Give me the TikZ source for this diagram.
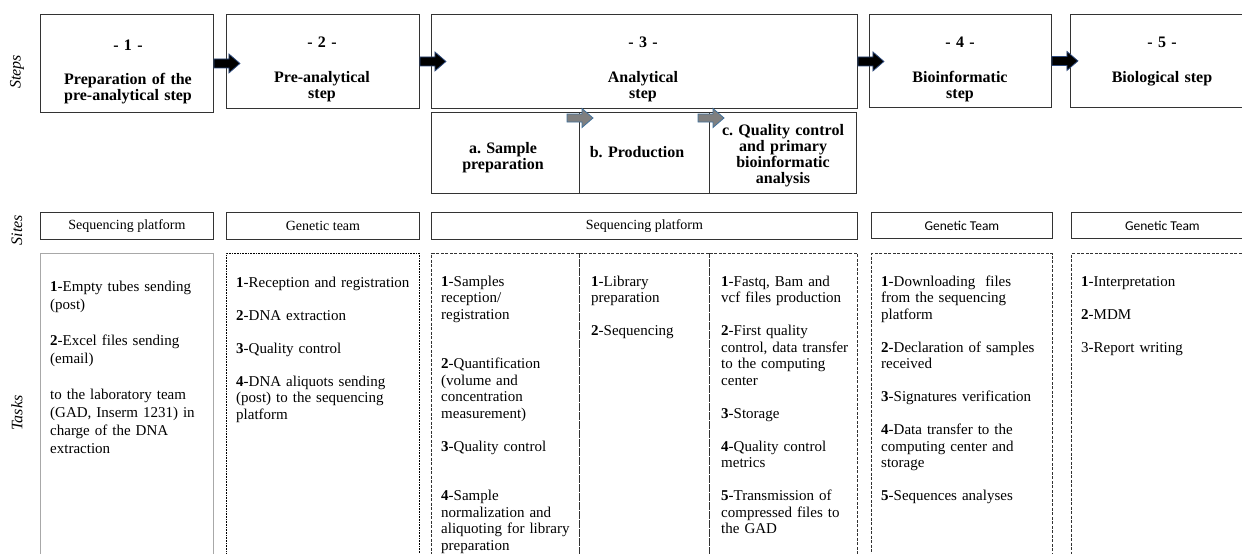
\documentclass[tikz,border=0pt]{standalone}
\usepackage{fontspec}
\setmainfont{Liberation Serif}
\newfontfamily\calfont{Carlito}
\usetikzlibrary{calc}
\definecolor{boxc}{HTML}{333333}
\definecolor{arrowblue}{HTML}{2E4A7D}
\definecolor{grayfill}{HTML}{7F7F7F}
\definecolor{grayline}{HTML}{41719C}
\definecolor{lightbox}{HTML}{A8A8A8}
\newcommand\mytitlef{\fontsize{16}{16.3}\bfseries\selectfont}
\newcommand\mytaskf{\fontsize{15}{16.5}\selectfont}
\tikzset{
  box/.style={draw=boxc, line width=0.9pt, anchor=north west, inner sep=0pt},
  dashbox/.style={draw=boxc, line width=1.1pt, dash pattern=on 3pt off 1.5pt, anchor=north west, inner sep=0pt},
  dotbox/.style={draw=black, line width=0.8pt, dash pattern=on 0.8pt off 0.8pt, anchor=north west, inner sep=0pt},
  plainbox/.style={draw=lightbox, line width=0.8pt, anchor=north west, inner sep=0pt},
  title/.style={font=\mytitlef, anchor=base, inner sep=0pt, align=center, text width=180pt},
  task/.style={font=\mytaskf, anchor=base west, inner sep=0pt, align=left, text width=200pt},
  sitetext/.style={font=\fontsize{14}{14}\selectfont},
  sidelabel/.style={font=\fontsize{16}{16}\itshape\selectfont, rotate=90, inner sep=0pt},
  pics/blockarrow/.style={code={
    \draw[line width=0.8pt, draw=arrowblue, fill=#1, line join=miter]
      (0,-4.5) -- (15,-4.5) -- (15,-9.5) -- (26,0) -- (15,9.5) -- (15,4.5) -- (0,4.5) -- cycle;}},
  pics/grayarrow/.style={code={
    \draw[line width=0.8pt, draw=grayline, fill=grayfill, line join=miter]
      (0,-4) -- (15,-4) -- (15,-9.5) -- (26,0) -- (15,9.5) -- (15,4) -- (0,4) -- cycle;}}
}
\begin{document}
\frenchspacing
\begin{tikzpicture}[x=1pt,y=-1pt]
\useasboundingbox (0,0) rectangle (1242,554);
\clip (0,0) rectangle (1242,554);

% side labels
\node[sidelabel] (lsteps) at (17,72) {Steps};
\node[sidelabel] (lsites) at (17,230) {Sites};
\node[sidelabel] (ltasks) at (17,413) {Tasks};

% step boxes
\node[box, minimum width=173pt, minimum height=98pt] (s1) at (40,14) {};
\node[box, minimum width=193pt, minimum height=94pt] (s2) at (226,14) {};
\node[box, minimum width=426pt, minimum height=94pt] (s3) at (431,14) {};
\node[box, minimum width=182pt, minimum height=93pt] (s4) at (869,14) {};
\node[box, minimum width=182pt, minimum height=93pt] (s5) at (1070,14) {};

% sub-steps of step 3
\node[box, minimum width=148pt, minimum height=81pt] (subA) at (431,112) {};
\node[box, minimum width=130pt, minimum height=81pt] (subB) at (579,112) {};
\node[box, minimum width=147pt, minimum height=81pt] (subC) at (709,112) {};

% step titles
\node[title] (n1) at (128,50) {- 1 -};
\node[title] (t1) at (128,84.5) {Preparation of the\\pre-analytical step};
\node[title] (n2) at (322,47) {- 2 -};
\node[title] (t2) at (322,82) {Pre-analytical\\step};
\node[title] (n3) at (643,47) {- 3 -};
\node[title] (t3) at (643,82) {Analytical\\step};
\node[title] (n4) at (960,47) {- 4 -};
\node[title] (t4) at (960,82) {Bioinformatic\\step};
\node[title] (n5) at (1162,47) {- 5 -};
\node[title] (t5) at (1162,82) {Biological step};

\node[title, text width=140pt] (ta) at (503,153) {a. Sample\\preparation};
\node[title, text width=125pt] (tb) at (637,157) {b. Production};
\node[title, text width=140pt] (tc) at (783,135) {c. Quality control\\and primary\\bioinformatic\\analysis};

% arrows
\pic at (s1.east) {blockarrow=black};
\pic at (s2.east) {blockarrow=black};
\pic at (s3.east) {blockarrow=black};
\pic at (s4.east) {blockarrow=black};
\pic at ($(subB.north west)+(-12,6)$) {grayarrow};
\pic at ($(subC.north west)+(-11,6)$) {grayarrow};

% sites
\node[box, minimum width=173pt, minimum height=27pt, sitetext] (site1) at (40,212) {Sequencing platform};
\node[box, minimum width=193pt, minimum height=27pt, sitetext] (site2) at (226,212) {Genetic team};
\node[box, minimum width=426pt, minimum height=27pt, sitetext] (site3) at (431,212) {Sequencing platform};
\node[box, minimum width=181pt, minimum height=26pt, font=\calfont\fontsize{13.5}{13.5}\selectfont] (site4) at (871,212) {Genetic Team};
\node[box, minimum width=182pt, minimum height=26pt, font=\calfont\fontsize{13.5}{13.5}\selectfont] (site5) at (1071,212) {Genetic Team};

% task boxes
\node[plainbox, minimum width=173pt, minimum height=310pt] (task1) at (40,253) {};
\node[dotbox, minimum width=193pt, minimum height=310pt] (task2) at (226,253) {};
\node[dashbox, minimum width=148pt, minimum height=310pt] (task3a) at (431,253) {};
\node[dashbox, minimum width=130pt, minimum height=310pt] (task3b) at (579,253) {};
\node[dashbox, minimum width=148pt, minimum height=310pt] (task3c) at (709,253) {};
\node[dashbox, minimum width=181pt, minimum height=310pt] (task4) at (871,253) {};
\node[dashbox, minimum width=182pt, minimum height=310pt] (task5) at (1071,253) {};

% task texts
\node[task, font=\fontsize{15}{18}\selectfont] (x1) at (50,291) {\textbf{1}-Empty tubes sending\\(post)\\[18pt]\textbf{2}-Excel files sending\\(email)\\[18pt]to the laboratory team\\(GAD, Inserm 1231) in\\charge of the DNA\\extraction};
\node[task] (x2) at (236,287) {\textbf{1}-Reception and registration\\[16.5pt]\textbf{2}-DNA extraction\\[16.5pt]\textbf{3}-Quality control\\[16.5pt]\textbf{4}-DNA aliquots sending\\(post) to the sequencing\\platform};
\node[task] (x3a) at (441,286) {\textbf{1}-Samples\\reception/\\registration\\[33pt]\textbf{2}-Quantification\\(volume and\\concentration\\measurement)\\[16.5pt]\textbf{3}-Quality control\\[33pt]\textbf{4}-Sample\\normalization and\\aliquoting for library\\preparation};
\node[task] (x3b) at (591,286) {\textbf{1}-Library\\preparation\\[16.5pt]\textbf{2}-Sequencing};
\node[task] (x3c) at (721,286) {\textbf{1}-Fastq, Bam and\\vcf files production\\[16.5pt]\textbf{2}-First quality\\control, data transfer\\to the computing\\center\\[16.5pt]\textbf{3}-Storage\\[16.5pt]\textbf{4}-Quality control\\metrics\\[16.5pt]\textbf{5}-Transmission of\\compressed files to\\the GAD};
\node[task] (x4) at (881,286) {\textbf{1}-Downloading~ files\\from the sequencing\\platform\\[16.5pt]\textbf{2}-Declaration of samples\\received\\[16.5pt]\textbf{3}-Signatures verification\\[16.5pt]\textbf{4}-Data transfer to the\\computing center and\\storage\\[16.5pt]\textbf{5}-Sequences analyses};
\node[task] (x5) at (1081,286) {\textbf{1}-Interpretation\\[16.5pt]\textbf{2}-MDM\\[16.5pt]3-Report writing};
\end{tikzpicture}
\end{document}
